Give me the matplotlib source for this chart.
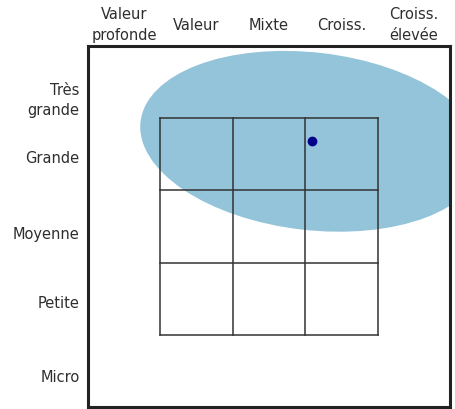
import matplotlib
matplotlib.use("Agg")
import matplotlib.pyplot as plt
from matplotlib.patches import Ellipse

plt.rcParams['font.family'] = ['Liberation Sans Narrow', 'DejaVu Sans Condensed', 'DejaVu Sans']

# style box: 5 columns (style) x 5 rows (size), y measured from top
col_labels = ["Valeur\nprofonde", "Valeur", "Mixte", "Croiss.", "Croiss.\nélevée"]
col_label_pos = [0.5, 1.5, 2.5, 3.5, 4.5]
row_labels = ["Très\ngrande", "Grande", "Moyenne", "Petite", "Micro"]
row_label_pos = [0.7, 1.54, 2.59, 3.54, 4.57]

# inner 3x3 grid bounds
grid_x = [1, 2, 3, 4]
grid_y = [1, 2, 3, 4]

# ownership zone (ellipse) and centroid
centroid_x, centroid_y = 3.09, 1.32
zone_width, zone_height, zone_angle = 4.76, 2.46, 6.6

txt = "#2e2e2e"

fig = plt.figure(figsize=(4.56, 4.09), dpi=100)
ax = fig.add_axes([88 / 456, 2 / 409, 362 / 456, 361 / 409])
ax.set_xlim(0, 5)
ax.set_ylim(5, 0)

zone = Ellipse((centroid_x, centroid_y), zone_width, zone_height, angle=zone_angle,
               facecolor="#94c4da", edgecolor="none", zorder=1)
ax.add_patch(zone)

for gx in grid_x:
    ax.plot([gx, gx], [grid_y[0], grid_y[-1]], color="#333333", lw=1.1, zorder=2)
for gy in grid_y:
    ax.plot([grid_x[0], grid_x[-1]], [gy, gy], color="#333333", lw=1.1, zorder=2)

ax.plot(centroid_x, centroid_y, "o", color="#00008b", ms=6, zorder=3)

for s in ax.spines.values():
    s.set_linewidth(2.2)
    s.set_color("#222222")

ax.set_xticks([])
for lab, x in zip(col_labels, col_label_pos):
    ax.annotate(lab, xy=(x, 1), xycoords=("data", "axes fraction"),
                xytext=(0, 15), textcoords="offset points",
                ha="center", va="center", fontsize=10.5, color=txt, linespacing=1.45)

ax.set_yticks(row_label_pos)
ax.set_yticklabels(row_labels, linespacing=1.45)
ax.tick_params(length=0, labelsize=10.5, colors=txt, pad=6)

fig.savefig("out.png", dpi=100)
